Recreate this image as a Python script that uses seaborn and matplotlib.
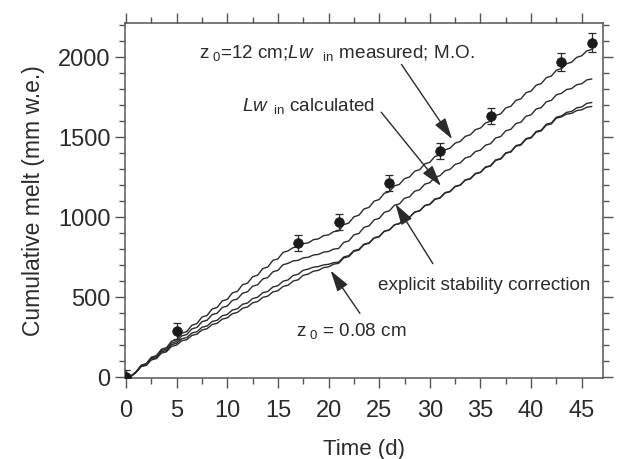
import numpy as np
import pandas as pd
import matplotlib
matplotlib.use("Agg")
import matplotlib.pyplot as plt
from matplotlib.ticker import MultipleLocator
import seaborn as sns

# modelled cumulative melt, every half day (mm w.e.)
time_d = np.arange(0, 46.5, 0.5)

melt_z0_12 = [0, 8, 35, 75, 85, 125, 135, 175, 185, 225,
              235, 275, 285, 325, 335, 376, 386, 426, 436, 477,
              487, 527, 537, 578, 588, 628, 638, 679, 689, 730,
              740, 780, 790, 810, 815, 835, 840, 860, 865, 885,
              890, 910, 915, 954, 964, 1003, 1013, 1052, 1062, 1101,
              1111, 1150, 1160, 1196, 1206, 1242, 1252, 1288, 1298, 1334,
              1344, 1380, 1390, 1422, 1432, 1464, 1474, 1506, 1516, 1548,
              1558, 1590, 1600, 1637, 1647, 1684, 1694, 1731, 1741, 1779,
              1789, 1826, 1836, 1873, 1883, 1920, 1930, 1960, 1970, 2000,
              2010, 2040, 2050]

melt_lw_calc = [0, 7, 33, 72, 81, 120, 129, 167, 176, 214,
                223, 258, 267, 302, 311, 347, 356, 391, 400, 436,
                445, 480, 489, 525, 534, 569, 578, 614, 623, 659,
                668, 703, 712, 727, 731, 746, 750, 764, 768, 782,
                786, 801, 805, 843, 852, 890, 899, 937, 946, 984,
                993, 1031, 1040, 1075, 1084, 1119, 1128, 1163, 1172, 1207,
                1216, 1251, 1260, 1291, 1300, 1331, 1340, 1371, 1380, 1411,
                1420, 1451, 1460, 1496, 1505, 1541, 1550, 1586, 1595, 1632,
                1641, 1677, 1686, 1722, 1731, 1766, 1775, 1799, 1805, 1829,
                1835, 1859, 1865]

melt_stab = [0, 6, 32, 70, 78, 114, 122, 159, 167, 204,
             212, 240, 248, 276, 284, 312, 320, 348, 356, 384,
             392, 420, 428, 456, 464, 492, 500, 528, 536, 564,
             572, 600, 608, 636, 644, 669, 676, 688, 692, 702,
             706, 716, 720, 752, 760, 792, 800, 832, 840, 872,
             880, 913, 921, 953, 961, 993, 1001, 1033, 1041, 1074,
             1082, 1114, 1122, 1154, 1162, 1194, 1202, 1234, 1242, 1274,
             1282, 1315, 1323, 1359, 1367, 1403, 1411, 1448, 1456, 1492,
             1500, 1537, 1545, 1582, 1590, 1626, 1634, 1656, 1662, 1684,
             1690, 1712, 1718]

melt_z0_008 = [0, 5, 30, 66, 74, 108, 116, 151, 159, 193,
               201, 227, 235, 261, 269, 295, 303, 329, 337, 363,
               371, 397, 405, 431, 439, 465, 473, 499, 507, 533,
               541, 567, 575, 601, 609, 637, 645, 663, 668, 685,
               690, 707, 712, 746, 754, 787, 795, 829, 837, 870,
               878, 912, 920, 952, 960, 992, 1000, 1032, 1040, 1072,
               1080, 1112, 1120, 1152, 1160, 1192, 1200, 1232, 1240, 1272,
               1280, 1312, 1320, 1356, 1364, 1400, 1408, 1444, 1452, 1488,
               1496, 1532, 1540, 1576, 1584, 1620, 1628, 1645, 1650, 1667,
               1672, 1688, 1693]

# measured cumulative melt
obs_day = [0, 5, 17, 21, 26, 31, 36, 43, 46]
obs_melt = [0, 287, 841, 972, 1215, 1414, 1636, 1969, 2093]
obs_err = [45, 50, 50, 50, 50, 50, 50, 57, 57]

sns.set_theme(style="ticks")
plt.rcParams['font.family'] = ['Liberation Sans', 'DejaVu Sans']
plt.rcParams['mathtext.fontset'] = 'custom'
plt.rcParams['mathtext.rm'] = 'Liberation Sans'
plt.rcParams['mathtext.it'] = 'Liberation Sans:italic'

ink = '#2b2b2b'
frame = '#555555'

fig = plt.figure(figsize=(6.17, 4.59), dpi=100)
ax = fig.add_axes([0.2026, 0.1765, 0.7747, 0.7734])

runs = pd.DataFrame({'t': time_d, 'A': melt_z0_12, 'B': melt_lw_calc,
                     'C': melt_stab, 'D': melt_z0_008})
for col in ['A', 'B', 'C', 'D']:
    sns.lineplot(data=runs, x='t', y=col, ax=ax, color=ink, lw=1.0,
                 estimator=None, sort=False)

ax.errorbar(obs_day, obs_melt, yerr=obs_err, fmt='none', ecolor=ink,
            elinewidth=0.9, capsize=3, capthick=0.9, zorder=4)
sns.scatterplot(x=obs_day, y=obs_melt, ax=ax, color='#1a1a1a', s=48,
                edgecolor='#1a1a1a', linewidth=0.5, zorder=5)

ax.set_xlim(-0.1, 47.1)
ax.set_ylim(-5, 2215)
ax.xaxis.set_major_locator(MultipleLocator(5))
ax.xaxis.set_minor_locator(MultipleLocator(2.5))
ax.yaxis.set_major_locator(MultipleLocator(500))
ax.yaxis.set_minor_locator(MultipleLocator(100))
ax.tick_params(which='both', direction='out', top=True, right=True,
               color=frame, width=1.0, labelsize=17, labelcolor=ink)
ax.tick_params(which='major', length=7)
ax.tick_params(which='minor', length=4)
ax.tick_params(axis='x', which='major', pad=9)
for s in ax.spines.values():
    s.set_visible(True)
    s.set_color(frame)
    s.set_linewidth(1.1)

ax.set_xlabel('Time (d)', fontsize=16, color=ink, labelpad=12)
ax.set_ylabel('Cumulative melt (mm w.e.)', fontsize=16.5, color=ink, labelpad=9)

txt = dict(fontsize=13.6, color=ink, ha='left', va='baseline')
ax.text(7.2, 1997, r'$\mathrm{z}_{\ 0}$=12 cm;$Lw_{\ \ \ \mathrm{in}}$ measured; M.O.', **txt)
ax.text(11.5, 1665, r'$Lw_{\ \ \mathrm{in}}$ calculated', **txt)
ax.text(24.9, 544, 'explicit stability correction', **txt)
ax.text(16.8, 255, r'$\mathrm{z}_{\ 0}$ = 0.08 cm', **txt)

arrow = dict(arrowstyle='-|>,head_length=1.3,head_width=0.38',
             color=ink, lw=1.0, shrinkA=0, shrinkB=0, mutation_scale=10)
ax.annotate('', xy=(32.2, 1489), xytext=(27.2, 1956), arrowprops=arrow)
ax.annotate('', xy=(31.1, 1196), xytext=(25.2, 1657), arrowprops=arrow)
ax.annotate('', xy=(26.6, 1084), xytext=(30.3, 710), arrowprops=arrow)
ax.annotate('', xy=(20.2, 667), xytext=(23.1, 399), arrowprops=arrow)

fig.savefig('out.png', dpi=100)
